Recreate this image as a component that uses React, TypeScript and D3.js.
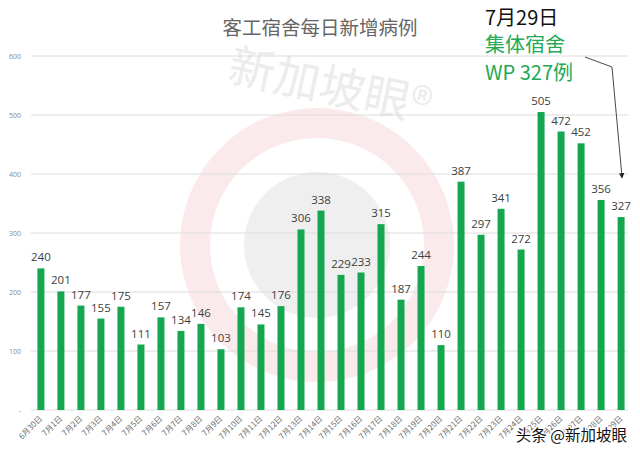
import React from "react";
import * as d3 from "d3";

// 客工宿舍每日新增病例, 6月30日 - 7月29日
const dates = [
  "6月30日", "7月1日", "7月2日", "7月3日", "7月4日", "7月5日", "7月6日", "7月7日",
  "7月8日", "7月9日", "7月10日", "7月11日", "7月12日", "7月13日", "7月14日",
  "7月15日", "7月16日", "7月17日", "7月18日", "7月19日", "7月20日", "7月21日",
  "7月22日", "7月23日", "7月24日", "7月25日", "7月26日", "7月27日", "7月28日", "7月29日",
];
const cases = [
  240, 201, 177, 155, 175, 111, 157, 134, 146, 103, 174, 145, 176, 306, 338,
  229, 233, 315, 187, 244, 110, 387, 297, 341, 272, 505, 472, 452, 356, 327,
];
const yTicks = [0, 100, 200, 300, 400, 500, 600];

const W = 640;
const H = 455;
const margin = { top: 56, right: 9, bottom: 45, left: 31 };

const CJK = "'Noto Sans CJK SC', 'Noto Sans', sans-serif";
const NUM = "'Open Sans', 'Noto Sans', sans-serif";
const GREEN = "#14a74f";

export default function App() {
  const x = d3
    .scaleBand<string>()
    .domain(dates)
    .range([margin.left, W - margin.right])
    .paddingInner(0.65)
    .paddingOuter(0.32);

  const y = d3
    .scaleLinear()
    .domain([0, 600])
    .range([H - margin.bottom, margin.top]);

  const bw = x.bandwidth();
  const lastX = (x(dates[dates.length - 1]) ?? 0) + bw / 2;

  return (
    <svg
      width={W}
      height={H}
      style={{ position: "absolute", left: 0, top: 0, background: "#fff" }}
    >
      <defs>
        <marker id="arrow" viewBox="0 0 10 10" refX="9" refY="5" markerWidth="6" markerHeight="6" orient="auto">
          <path d="M0,0 L10,5 L0,10 z" fill="#222" />
        </marker>
      </defs>

      {/* background logo watermark */}
      <g opacity={0.9}>
        <circle cx={317} cy={245} r={122} fill="none" stroke="#fbe8ea" strokeWidth={30} />
        <circle cx={317} cy={245} r={73} fill="#eeeeee" />
        <text
          x={327}
          y={102}
          textAnchor="middle"
          fontFamily={CJK}
          fontSize={46}
          fill="#ebebeb"
          transform="rotate(12 327 102)"
        >
          新加坡眼®
        </text>
      </g>

      {/* gridlines */}
      {yTicks.map((t) => (
        <line
          key={t}
          x1={margin.left}
          x2={W - 12}
          y1={y(t)}
          y2={y(t)}
          stroke="#dcdcdc"
          strokeWidth={1}
        />
      ))}
      {yTicks.map((t) => (
        <text
          key={"l" + t}
          x={21}
          y={y(t) + 2.5}
          textAnchor="end"
          fontFamily={NUM}
          fontSize={7}
          fill="#8a8a8a"
        >
          {t === 0 ? "-" : t}
        </text>
      ))}

      {/* bars */}
      {cases.map((v, i) => (
        <rect
          key={dates[i]}
          x={x(dates[i])}
          y={y(v)}
          width={bw}
          height={y(0) - y(v)}
          fill={GREEN}
        />
      ))}

      {/* value labels */}
      {cases.map((v, i) => (
        <text
          key={"v" + i}
          x={(x(dates[i]) ?? 0) + bw / 2}
          y={y(v) - 7}
          textAnchor="middle"
          fontFamily={NUM}
          fontSize={11.5}
          fill="#404040"
        >
          {v}
        </text>
      ))}

      {/* x labels */}
      {dates.map((d) => {
        const cx = (x(d) ?? 0) + bw / 2 + 2;
        const cy = H - margin.bottom + 9;
        return (
          <text
            key={"x" + d}
            x={cx}
            y={cy}
            textAnchor="end"
            fontFamily={CJK}
            fontSize={8}
            fill="#6a6a6a"
            transform={`rotate(-45 ${cx} ${cy})`}
          >
            {d}
          </text>
        );
      })}

      {/* title */}
      <text x={320} y={35} textAnchor="middle" fontFamily={CJK} fontSize={19.5} fill="#666">
        客工宿舍每日新增病例
      </text>

      {/* annotation */}
      <text x={485} y={25} fontFamily={CJK} fontSize={20} fill="#111">
        7月29日
      </text>
      <text x={485} y={52} fontFamily={CJK} fontSize={20} fill="#22a955">
        集体宿舍
      </text>
      <text x={485} y={80} fontFamily={CJK} fontSize={20} fill="#22a955">
        WP 327例
      </text>
      <path
        d={`M585,57 L612,67 L${lastX + 1},178`}
        fill="none"
        stroke="#333"
        strokeWidth={0.9}
        markerEnd="url(#arrow)"
      />

      {/* corner watermark */}
      <text
        x={627}
        y={441}
        textAnchor="end"
        fontFamily={CJK}
        fontSize={15.5}
        fill="#111"
        stroke="#fff"
        strokeWidth={2.5}
        paintOrder="stroke"
      >
        头条 @新加坡眼
      </text>
    </svg>
  );
}
